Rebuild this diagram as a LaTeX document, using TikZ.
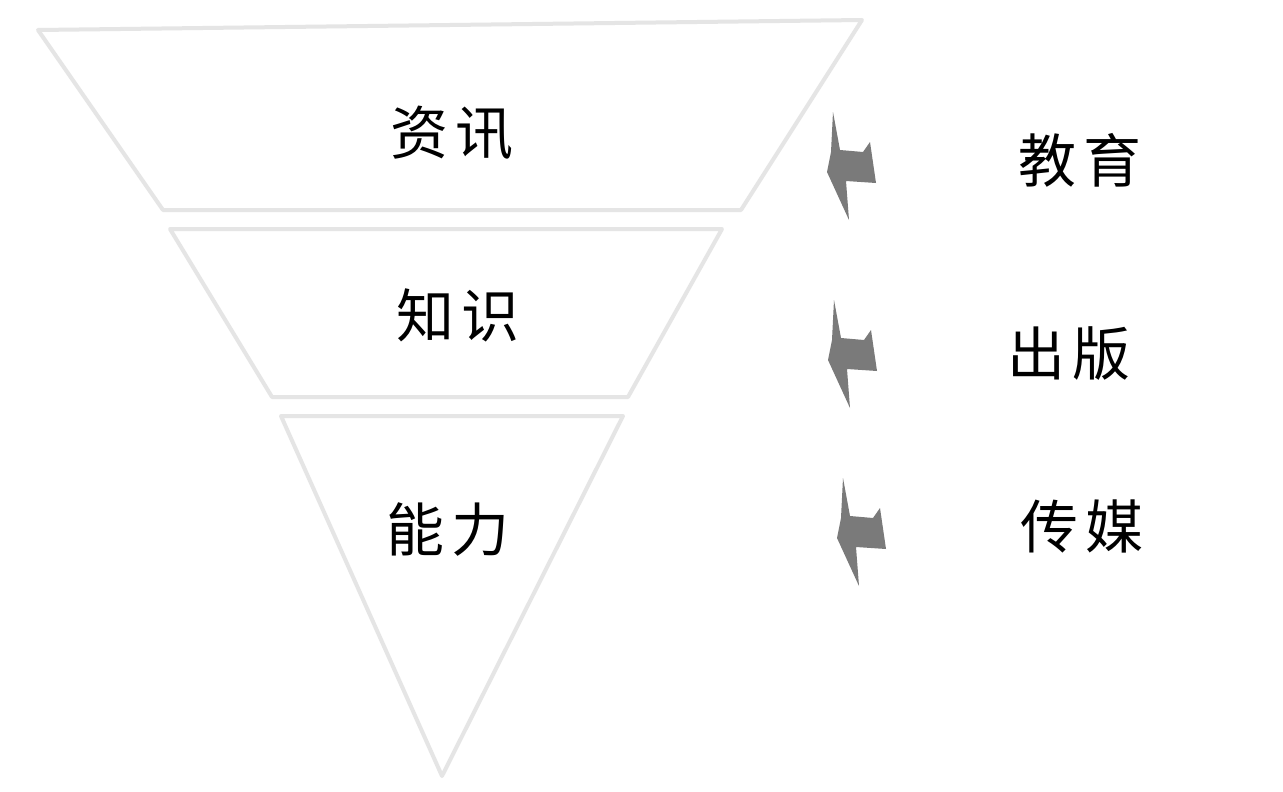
\documentclass[tikz,border=0pt]{standalone}
\usepackage{fontspec}
\newfontfamily\cjk{Noto Sans CJK SC}
\newcommand{\twochar}[2]{#1\hspace{8pt}#2}
\tikzset{
  layer/.style={draw=black!10, line width=4pt, line join=round, fill=white},
  label/.style={font=\cjk\fontsize{58}{60}\selectfont, text=black, inner sep=0pt},
  arrowshape/.style={fill=black!52, draw=none}
}
\begin{document}
\begin{tikzpicture}[x=1pt,y=-1pt]
\useasboundingbox[fill=white] (0,0) rectangle (1283,792);
% funnel layers
\draw[layer] (38,30) -- (862,20) -- (741,210) -- (163,210) -- cycle;
\draw[layer] (170,229) -- (722,229) -- (628,397) -- (272,397) -- cycle;
\draw[layer] (281,416) -- (623,416) -- (442,776) -- cycle;
% labels inside
\node[label] (zx) at (452,133) {\twochar{资}{讯}};
\node[label] (zs) at (458,315) {\twochar{知}{识}};
\node[label] (nl) at (448,530) {\twochar{能}{力}};
% labels right
\node[label] (jy) at (1080,160) {\twochar{教}{育}};
\node[label] (cb) at (1069,354) {\twochar{出}{版}};
\node[label] (cm) at (1082,526) {\twochar{传}{媒}};
% arrows
\coordinate (a1) at (833,112);
\coordinate (a2) at (834,300);
\coordinate (a3) at (843,478);
\foreach \a in {a1,a2,a3}{
  \fill[arrowshape, shift={(\a)}] (0,0) -- (7,38) -- (30,40) -- (37,30) -- (43,71) -- (13,69) -- (16,108) -- (-6,60) -- (-2,40) -- cycle;
}
\end{tikzpicture}
\end{document}
